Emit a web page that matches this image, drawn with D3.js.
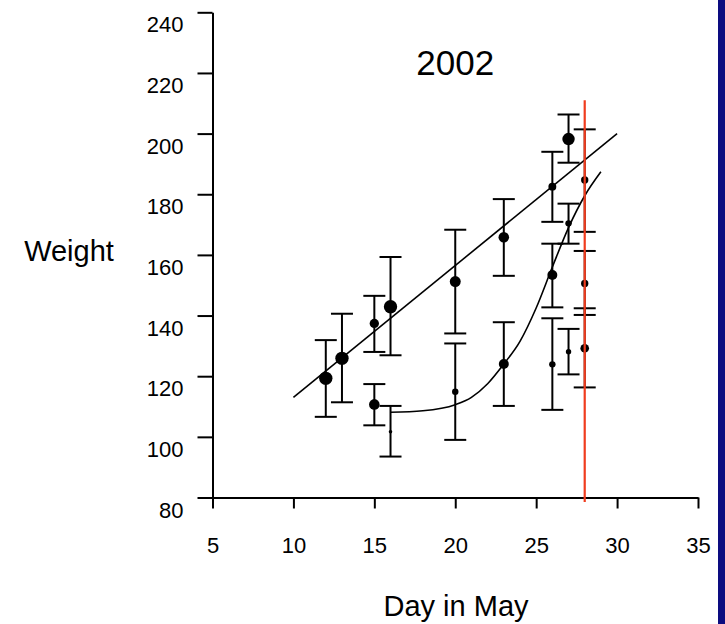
<!DOCTYPE html>
<html>
<head>
<meta charset="utf-8">
<script src="https://cdn.jsdelivr.net/npm/d3@7"></script>
<style>
  body { margin: 0; background: #fff; }
  svg { display: block; font-family: "Liberation Sans", Arial, sans-serif; }
</style>
</head>
<body>
<svg id="chart" width="725" height="624"></svg>
<script>
// weight samples per day (mean, error bar low/high, sample count for dot size)
const days    = [12, 13, 15, 16, 20, 23, 26, 27, 28, 15, 16, 20, 23, 26, 26, 27, 27, 28, 28];
const weights = [119.3, 125.9, 137.4, 142.9, 151.2, 165.8, 182.5, 198.2, 184.7,
                 110.7, 101.7, 114.9, 124.0, 153.4, 123.9, 170.4, 128.1, 150.6, 129.2];
const lows    = [106.6, 111.4, 128.0, 126.9, 134.1, 153.1, 170.9, 190.4, 167.6,
                 103.8, 93.5, 99.0, 110.2, 142.7, 108.9, 163.7, 120.6, 140.2, 116.3];
const highs   = [131.9, 140.6, 146.5, 159.3, 168.3, 178.4, 194.0, 206.3, 201.4,
                 117.4, 110.2, 130.8, 137.8, 163.7, 139.1, 176.9, 135.6, 161.3, 142.4];
const counts  = [43, 43, 21, 43, 29, 27, 15, 37, 13, 27, 3, 10, 24, 24, 10, 10, 7, 13, 18];

// straight fit line (endpoints)
const fitDays    = [10, 30];
const fitWeights = [113, 200];

// growth curve
const curveDays    = [16, 18, 20, 21, 22, 23, 24, 25, 26, 27, 28, 29];
const curveWeights = [108.1, 108.6, 110.6, 113, 117.5, 124, 131.5, 142.5, 156, 169, 179.5, 187.4];

// axis ticks
const xTicks = [5, 10, 15, 20, 25, 30, 35];
const yTicks = [80, 100, 120, 140, 160, 180, 200, 220, 240];

// red marker day
const markerDay = 28;
const markerTop = 211;

const svg = d3.select("#chart");

// blue frame edge on the right
svg.append("rect")
    .attr("x", 718).attr("y", 0)
    .attr("width", 7).attr("height", 624)
    .attr("fill", "#0c0c80");

let x = d3.scaleLinear().domain([5, 35]).range([212.5, 698]);
let y = d3.scaleLinear().domain([80, 240]).range([497.5, 12.3]);
let r = d3.scaleSqrt().domain([0, 50]).range([0, 7.2]);

// y axis
let yAxis = svg.append("g")
    .attr("transform", "translate(" + x(5) + ",0)")
    .call(d3.axisLeft(y).tickValues(yTicks).tickSize(15).tickSizeOuter(0).tickPadding(14));
yAxis.selectAll("text")
    .attr("dy", null)
    .attr("y", 19.5)
    .attr("font-size", "22px")
    .attr("font-family", "Liberation Sans, Arial, sans-serif")
    .attr("fill", "#000");

// x axis
let xAxis = svg.append("g")
    .attr("transform", "translate(0," + y(80) + ")")
    .call(d3.axisBottom(x).tickValues(xTicks).tickSize(11).tickSizeOuter(0));
xAxis.selectAll("text")
    .attr("dy", null)
    .attr("y", 55.5)
    .attr("font-size", "22px")
    .attr("font-family", "Liberation Sans, Arial, sans-serif")
    .attr("fill", "#000");

svg.selectAll(".domain, .tick line")
    .attr("stroke", "#000")
    .attr("stroke-width", 2);

// fitted line
svg.append("line")
    .attr("x1", x(fitDays[0])).attr("y1", y(fitWeights[0]))
    .attr("x2", x(fitDays[1])).attr("y2", y(fitWeights[1]))
    .attr("stroke", "#000")
    .attr("stroke-width", 1.6);

// growth curve
let curve = d3.line()
    .x(d => x(d[0]))
    .y(d => y(d[1]))
    .curve(d3.curveMonotoneX);
svg.append("path")
    .datum(curveDays.map((d, i) => [d, curveWeights[i]]))
    .attr("d", curve)
    .attr("fill", "none")
    .attr("stroke", "#000")
    .attr("stroke-width", 1.6);

// error bars + dots
let pts = days.map((d, i) => ({day: d, w: weights[i], lo: lows[i], hi: highs[i], n: counts[i]}));
let cap = 11;

let bars = svg.append("g").selectAll("g")
    .data(pts)
    .enter()
    .append("g");

bars.append("line")
    .attr("x1", d => x(d.day)).attr("x2", d => x(d.day))
    .attr("y1", d => y(d.lo)).attr("y2", d => y(d.hi))
    .attr("stroke", "#000").attr("stroke-width", 2);

bars.append("line")
    .attr("x1", d => x(d.day) - cap).attr("x2", d => x(d.day) + cap)
    .attr("y1", d => y(d.hi)).attr("y2", d => y(d.hi))
    .attr("stroke", "#000").attr("stroke-width", 2);

bars.append("line")
    .attr("x1", d => x(d.day) - cap).attr("x2", d => x(d.day) + cap)
    .attr("y1", d => y(d.lo)).attr("y2", d => y(d.lo))
    .attr("stroke", "#000").attr("stroke-width", 2);

bars.append("circle")
    .attr("cx", d => x(d.day))
    .attr("cy", d => y(d.w))
    .attr("r", d => r(d.n))
    .attr("fill", "#000");

// red vertical marker
svg.append("line")
    .attr("x1", x(markerDay)).attr("x2", x(markerDay))
    .attr("y1", y(markerTop)).attr("y2", y(80) + 4.5)
    .attr("stroke", "#f03c1e")
    .attr("stroke-width", 2.2);

// titles
svg.append("text")
    .text("2002")
    .attr("x", x(20)).attr("y", 75)
    .attr("text-anchor", "middle")
    .attr("font-size", "35px")
    .attr("fill", "#000");

svg.append("text")
    .text("Weight")
    .attr("x", 69).attr("y", 261)
    .attr("text-anchor", "middle")
    .attr("font-size", "29px")
    .attr("fill", "#000");

svg.append("text")
    .text("Day in May")
    .attr("x", 456).attr("y", 616)
    .attr("text-anchor", "middle")
    .attr("font-size", "29px")
    .attr("fill", "#000");
</script>
</body>
</html>
